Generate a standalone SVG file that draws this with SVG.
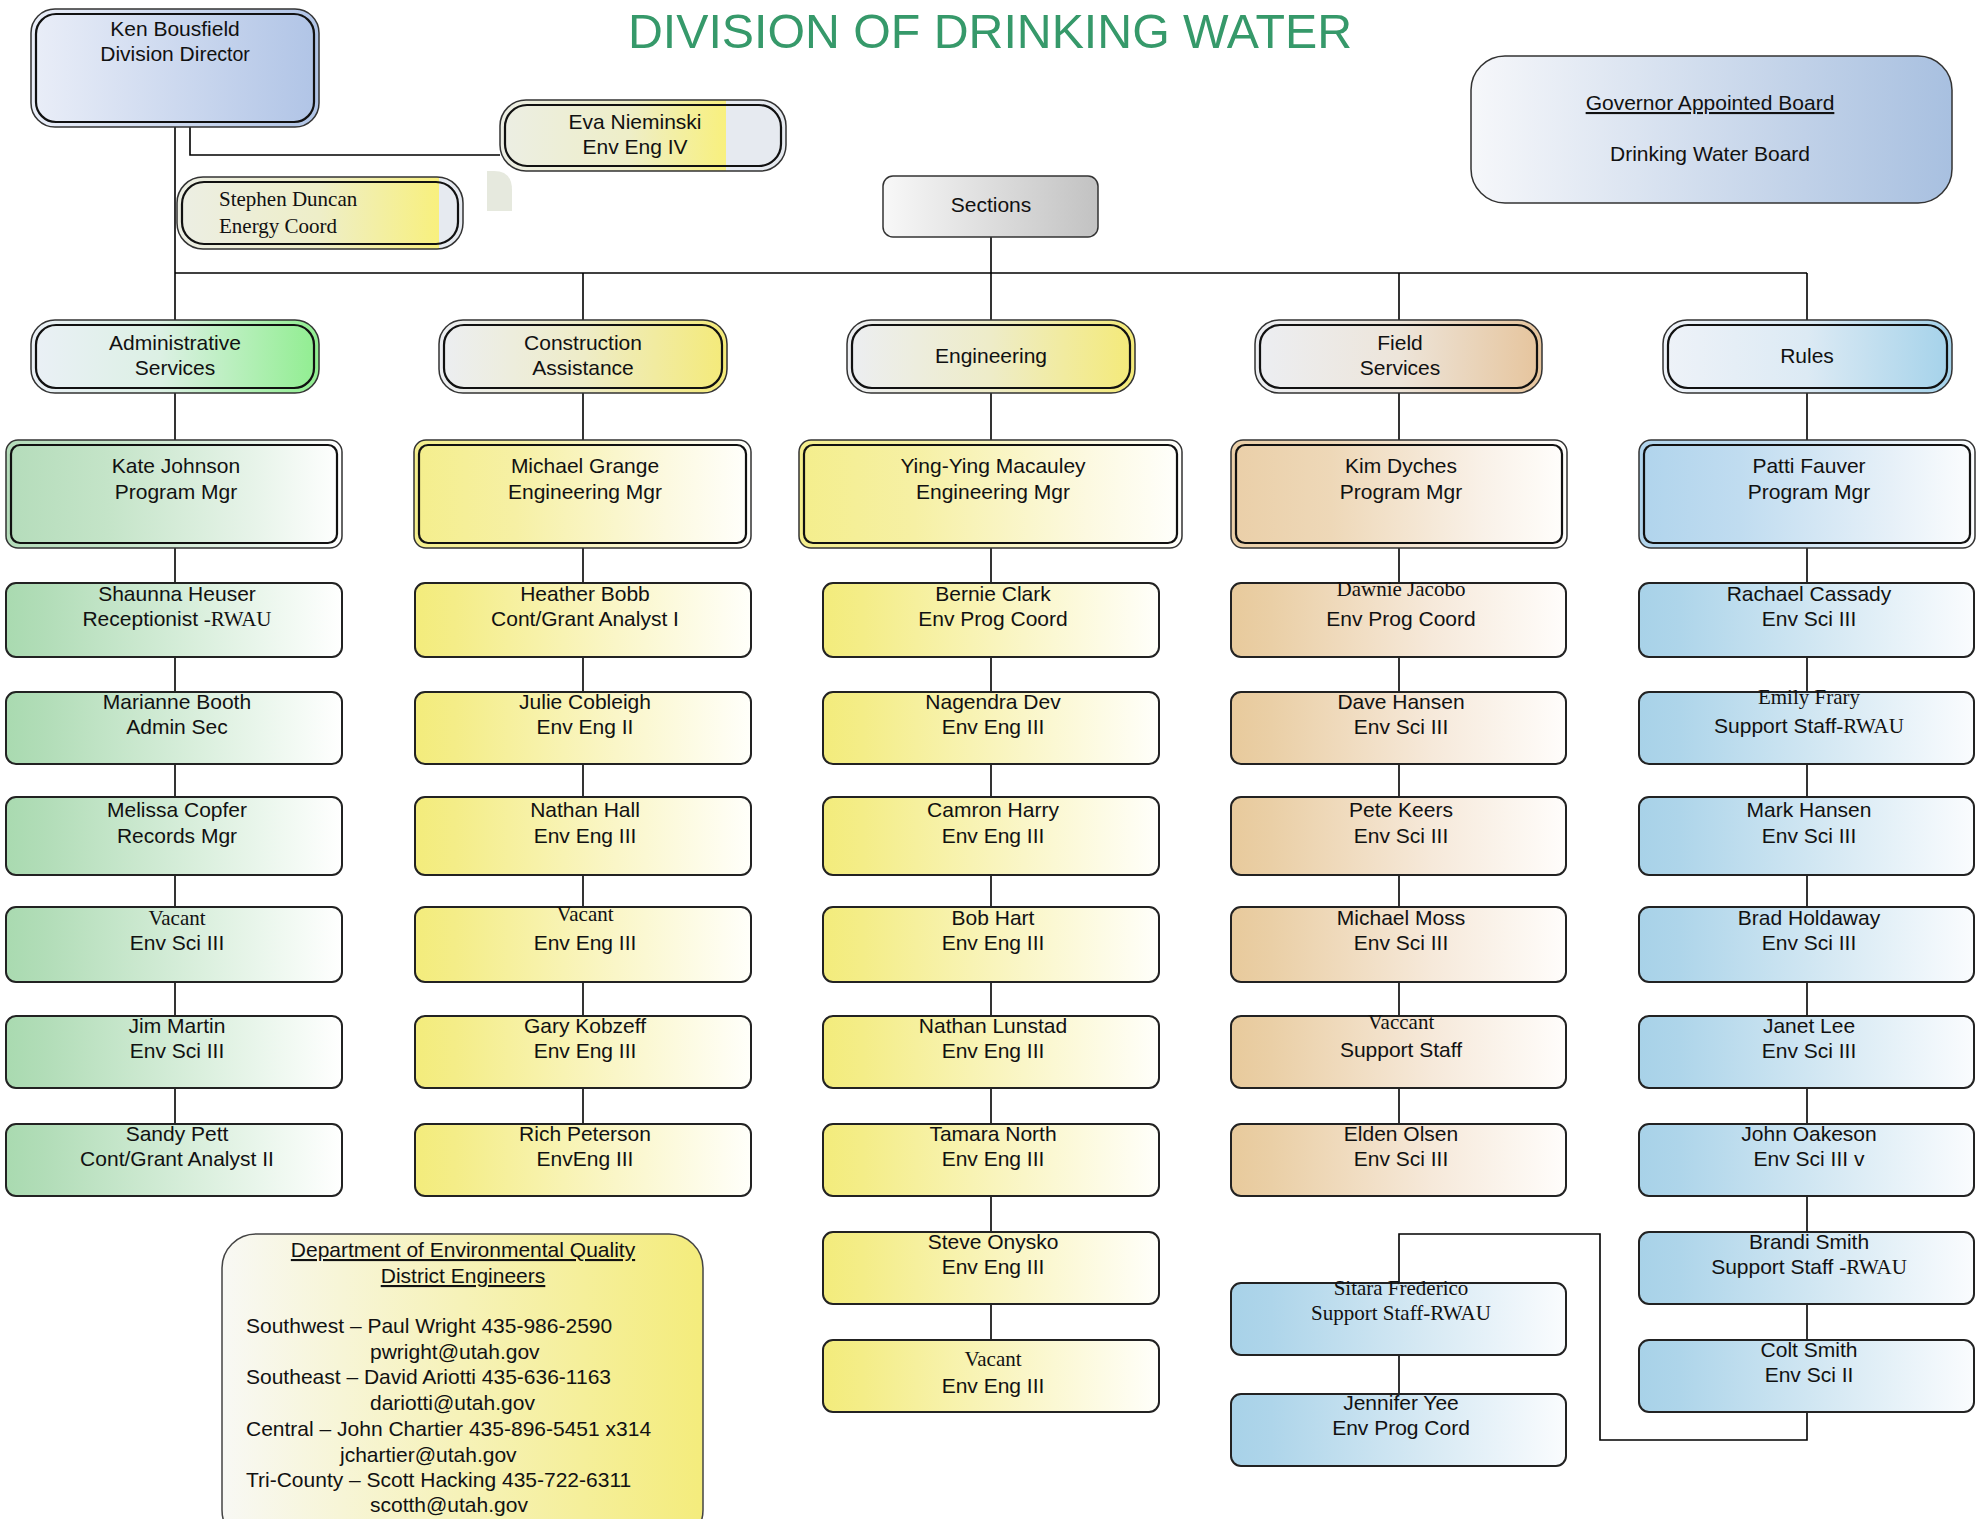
<svg xmlns="http://www.w3.org/2000/svg" width="1984" height="1519" viewBox="0 0 1984 1519">
<style>
.t{font-family:"Liberation Sans",Arial,sans-serif;font-size:21px;fill:#111;text-anchor:middle}
.s{font-family:"Liberation Serif","Times New Roman",serif;font-size:21px}
.ln{stroke:#000;stroke-width:1.6;fill:none}
.box{stroke:#222;stroke-width:2}
.o{stroke:#333;stroke-width:1.5}
.i{fill:none;stroke:#111;stroke-width:2.2}
</style>
<defs>
<linearGradient id="gG"><stop offset="0" stop-color="#a9dab0"/><stop offset="0.12" stop-color="#b2ddb8"/><stop offset="0.6" stop-color="#dcf0df"/><stop offset="1" stop-color="#ffffff"/></linearGradient>
<linearGradient id="gY"><stop offset="0" stop-color="#f3ec7c"/><stop offset="0.12" stop-color="#f4ed88"/><stop offset="0.6" stop-color="#faf6c8"/><stop offset="1" stop-color="#fffffa"/></linearGradient>
<linearGradient id="gT"><stop offset="0" stop-color="#e8ca9c"/><stop offset="0.12" stop-color="#eacfa6"/><stop offset="0.6" stop-color="#f6e9da"/><stop offset="1" stop-color="#fffdfb"/></linearGradient>
<linearGradient id="gB"><stop offset="0" stop-color="#a8d2e8"/><stop offset="0.12" stop-color="#aed5ea"/><stop offset="0.6" stop-color="#d8eaf4"/><stop offset="1" stop-color="#fafcfe"/></linearGradient>
<linearGradient id="mG"><stop offset="0" stop-color="#b4dcba"/><stop offset="0.3" stop-color="#c4e4c8"/><stop offset="0.75" stop-color="#e8f4ea"/><stop offset="1" stop-color="#ffffff"/></linearGradient>
<linearGradient id="mY"><stop offset="0" stop-color="#f4ee8c"/><stop offset="0.3" stop-color="#f6f0a4"/><stop offset="0.75" stop-color="#fcf9e0"/><stop offset="1" stop-color="#fffffc"/></linearGradient>
<linearGradient id="mT"><stop offset="0" stop-color="#eacfa8"/><stop offset="0.3" stop-color="#eed8b8"/><stop offset="0.75" stop-color="#f9f1e8"/><stop offset="1" stop-color="#fffefc"/></linearGradient>
<linearGradient id="mB"><stop offset="0" stop-color="#b0d4ec"/><stop offset="0.3" stop-color="#c0dcf0"/><stop offset="0.75" stop-color="#e6f0f8"/><stop offset="1" stop-color="#fcfdfe"/></linearGradient>
<linearGradient id="hG"><stop offset="0" stop-color="#eaf0f6"/><stop offset="0.45" stop-color="#dcf0e4"/><stop offset="1" stop-color="#90ee90"/></linearGradient>
<linearGradient id="hY"><stop offset="0" stop-color="#eceef2"/><stop offset="0.5" stop-color="#eeecc8"/><stop offset="1" stop-color="#f4ea78"/></linearGradient>
<linearGradient id="hT"><stop offset="0" stop-color="#eceef2"/><stop offset="0.5" stop-color="#ede5da"/><stop offset="1" stop-color="#e6c49c"/></linearGradient>
<linearGradient id="hB"><stop offset="0" stop-color="#eef2f8"/><stop offset="0.5" stop-color="#dceaf4"/><stop offset="1" stop-color="#a4d2ea"/></linearGradient>
<linearGradient id="gKen"><stop offset="0" stop-color="#eaeef8"/><stop offset="1" stop-color="#b0c4e6"/></linearGradient>
<linearGradient id="gGov"><stop offset="0" stop-color="#f6f7fa"/><stop offset="1" stop-color="#a8c0e0"/></linearGradient>
<linearGradient id="gSec"><stop offset="0" stop-color="#f8f8f8"/><stop offset="1" stop-color="#c2c2c2"/></linearGradient>
<linearGradient id="gDeq"><stop offset="0" stop-color="#f8f8f4"/><stop offset="1" stop-color="#f4ec7c"/></linearGradient>
<linearGradient id="gEva"><stop offset="0" stop-color="#eceee4"/><stop offset="0.45" stop-color="#eeeec8"/><stop offset="0.79" stop-color="#f8f07e"/><stop offset="0.79" stop-color="#e6eaf0"/><stop offset="1" stop-color="#e6eaf0"/></linearGradient>
<linearGradient id="gSte"><stop offset="0" stop-color="#eceee4"/><stop offset="0.5" stop-color="#eeeec8"/><stop offset="0.915" stop-color="#f8f07e"/><stop offset="0.915" stop-color="#e6eaf0"/><stop offset="1" stop-color="#e6eaf0"/></linearGradient>
</defs>
<rect width="1984" height="1519" fill="#ffffff"/>

<text x="990" y="48" font-family="Liberation Sans, Arial, sans-serif" font-size="48" fill="#36996a" text-anchor="middle" textLength="724" lengthAdjust="spacingAndGlyphs">DIVISION OF DRINKING WATER</text>

<g id="connectors">
<path class="ln" d="M175,127 V1124"/>
<path class="ln" d="M175,273 H1807" stroke-width="2.5"/>
<path class="ln" d="M991,237 V1340"/>
<path class="ln" d="M583,273 V1124"/>
<path class="ln" d="M1399,273 V1124"/>
<path class="ln" d="M1807,273 V1412"/>
<path class="ln" d="M1807,1412 V1440 H1600 V1234 H1399 V1283" stroke-width="2"/>
<path class="ln" d="M1399,1355 V1394"/>
<path class="ln" d="M190,127 V155 H500" stroke-width="2"/>
<path d="M163,97 H190 V127" fill="none" stroke="#888" stroke-width="1.5" stroke-dasharray="2,1.5"/>
</g>

<path d="M487,171 H494 Q512,171 512,190 V211 H487 Z" fill="#e6e9de"/>

<g id="ken">
<rect class="o" x="31" y="9" width="288" height="118" rx="24" fill="url(#gKen)"/>
<rect class="i" x="36" y="14" width="278" height="108" rx="20"/>
<text class="t" x="175" y="36">Ken Bousfield</text>
<text class="t" x="175" y="61">Division Dir<tspan font-size="19.5">ector</tspan></text>
</g>

<g id="eva">
<rect class="o" x="500" y="100" width="286" height="71" rx="26" fill="url(#gEva)"/>
<rect class="i" x="505" y="105" width="276" height="61" rx="22"/>
<text class="t" x="635" y="129">Eva Nieminski</text>
<text class="t" x="635" y="154">Env Eng IV</text>
</g>

<g id="stephen">
<rect class="o" x="177" y="177" width="286" height="72" rx="26" fill="url(#gSte)"/>
<rect class="i" x="182" y="182" width="276" height="62" rx="22"/>
<text class="s" x="219" y="206" font-size="22.5" fill="#111">Stephen Duncan</text>
<text class="s" x="219" y="233" font-size="22.5" fill="#111">Energy Coord</text>
</g>

<g id="governor">
<rect x="1471" y="56" width="481" height="147" rx="34" fill="url(#gGov)" stroke="#333" stroke-width="1.5"/>
<text class="t" x="1710" y="110" text-decoration="underline">Governor Appointed Board</text>
<text class="t" x="1710" y="161">Drinking Water Board</text>
</g>

<g id="sections">
<rect x="883" y="176" width="215" height="61" rx="10" fill="url(#gSec)" stroke="#333" stroke-width="1.5"/>
<text class="t" x="991" y="212">Sections</text>
</g>

<!-- Section headers -->
<g id="h-admin">
<rect class="o" x="31" y="320" width="288" height="73" rx="24" fill="url(#hG)"/>
<rect class="i" x="36" y="325" width="278" height="63" rx="20"/>
<text class="t" x="175" y="350">Administrative</text>
<text class="t" x="175" y="375">Services</text>
</g>
<g id="h-construction">
<rect class="o" x="439" y="320" width="288" height="73" rx="24" fill="url(#hY)"/>
<rect class="i" x="444" y="325" width="278" height="63" rx="20"/>
<text class="t" x="583" y="350">Construction</text>
<text class="t" x="583" y="375">Assistance</text>
</g>
<g id="h-engineering">
<rect class="o" x="847" y="320" width="288" height="73" rx="24" fill="url(#hY)"/>
<rect class="i" x="852" y="325" width="278" height="63" rx="20"/>
<text class="t" x="991" y="363">Engineering</text>
</g>
<g id="h-field">
<rect class="o" x="1255" y="320" width="287" height="73" rx="24" fill="url(#hT)"/>
<rect class="i" x="1260" y="325" width="277" height="63" rx="20"/>
<text class="t" x="1400" y="350">Field</text>
<text class="t" x="1400" y="375">Services</text>
</g>
<g id="h-rules">
<rect class="o" x="1663" y="320" width="289" height="73" rx="24" fill="url(#hB)"/>
<rect class="i" x="1668" y="325" width="279" height="63" rx="20"/>
<text class="t" x="1807" y="363">Rules</text>
</g>

<!-- Managers -->
<g id="m-kate">
<rect class="o" x="6" y="440" width="336" height="108" rx="12" fill="url(#mG)"/>
<rect class="i" x="11" y="445" width="326" height="98" rx="9"/>
<text class="t" x="176" y="473">Kate Johnson</text>
<text class="t" x="176" y="499">Program Mgr</text>
</g>
<g id="m-michael">
<rect class="o" x="414" y="440" width="337" height="108" rx="12" fill="url(#mY)"/>
<rect class="i" x="419" y="445" width="327" height="98" rx="9"/>
<text class="t" x="585" y="473">Michael Grange</text>
<text class="t" x="585" y="499">Engineering Mgr</text>
</g>
<g id="m-ying">
<rect class="o" x="799" y="440" width="383" height="108" rx="12" fill="url(#mY)"/>
<rect class="i" x="804" y="445" width="373" height="98" rx="9"/>
<text class="t" x="993" y="473">Ying-Ying Macauley</text>
<text class="t" x="993" y="499">Engineering Mgr</text>
</g>
<g id="m-kim">
<rect class="o" x="1231" y="440" width="336" height="108" rx="12" fill="url(#mT)"/>
<rect class="i" x="1236" y="445" width="326" height="98" rx="9"/>
<text class="t" x="1401" y="473">Kim Dyches</text>
<text class="t" x="1401" y="499">Program Mgr</text>
</g>
<g id="m-patti">
<rect class="o" x="1639" y="440" width="336" height="108" rx="12" fill="url(#mB)"/>
<rect class="i" x="1644" y="445" width="326" height="98" rx="9"/>
<text class="t" x="1809" y="473">Patti Fauver</text>
<text class="t" x="1809" y="499">Program Mgr</text>
</g>

<!-- Admin staff -->
<g id="a1"><rect class="box" x="6" y="583" width="336" height="74" rx="10" fill="url(#gG)"/>
<text class="t" x="177" y="601">Shaunna Heuser</text><text class="t" x="177" y="626">Receptionist <tspan class="s">-RWAU</tspan></text></g>
<g id="a2"><rect class="box" x="6" y="692" width="336" height="72" rx="10" fill="url(#gG)"/>
<text class="t" x="177" y="709">Marianne Booth</text><text class="t" x="177" y="734">Admin Sec</text></g>
<g id="a3"><rect class="box" x="6" y="797" width="336" height="78" rx="10" fill="url(#gG)"/>
<text class="t" x="177" y="817">Melissa Copfer</text><text class="t" x="177" y="843">Records Mgr</text></g>
<g id="a4"><rect class="box" x="6" y="907" width="336" height="75" rx="10" fill="url(#gG)"/>
<text class="t s" x="177" y="925">Vacant</text><text class="t" x="177" y="950">Env Sci III</text></g>
<g id="a5"><rect class="box" x="6" y="1016" width="336" height="72" rx="10" fill="url(#gG)"/>
<text class="t" x="177" y="1033">Jim Martin</text><text class="t" x="177" y="1058">Env Sci III</text></g>
<g id="a6"><rect class="box" x="6" y="1124" width="336" height="72" rx="10" fill="url(#gG)"/>
<text class="t" x="177" y="1141">Sandy Pett</text><text class="t" x="177" y="1166">Cont/Grant Analyst II</text></g>

<!-- Construction staff -->
<g id="c1"><rect class="box" x="415" y="583" width="336" height="74" rx="10" fill="url(#gY)"/>
<text class="t" x="585" y="601">Heather Bobb</text><text class="t" x="585" y="626">Cont/Grant Analyst I</text></g>
<g id="c2"><rect class="box" x="415" y="692" width="336" height="72" rx="10" fill="url(#gY)"/>
<text class="t" x="585" y="709">Julie Cobleigh</text><text class="t" x="585" y="734">Env Eng II</text></g>
<g id="c3"><rect class="box" x="415" y="797" width="336" height="78" rx="10" fill="url(#gY)"/>
<text class="t" x="585" y="817">Nathan Hall</text><text class="t" x="585" y="843">Env Eng III</text></g>
<g id="c4"><rect class="box" x="415" y="907" width="336" height="75" rx="10" fill="url(#gY)"/>
<text class="t s" x="585" y="921">Vacant</text><text class="t" x="585" y="950">Env Eng III</text></g>
<g id="c5"><rect class="box" x="415" y="1016" width="336" height="72" rx="10" fill="url(#gY)"/>
<text class="t" x="585" y="1033">Gary Kobzeff</text><text class="t" x="585" y="1058">Env Eng III</text></g>
<g id="c6"><rect class="box" x="415" y="1124" width="336" height="72" rx="10" fill="url(#gY)"/>
<text class="t" x="585" y="1141">Rich Peterson</text><text class="t" x="585" y="1166">EnvEng III</text></g>

<!-- Engineering staff -->
<g id="e1"><rect class="box" x="823" y="583" width="336" height="74" rx="10" fill="url(#gY)"/>
<text class="t" x="993" y="601">Bernie Clark</text><text class="t" x="993" y="626">Env Prog Coord</text></g>
<g id="e2"><rect class="box" x="823" y="692" width="336" height="72" rx="10" fill="url(#gY)"/>
<text class="t" x="993" y="709">Nagendra Dev</text><text class="t" x="993" y="734">Env Eng III</text></g>
<g id="e3"><rect class="box" x="823" y="797" width="336" height="78" rx="10" fill="url(#gY)"/>
<text class="t" x="993" y="817">Camron Harry</text><text class="t" x="993" y="843">Env Eng III</text></g>
<g id="e4"><rect class="box" x="823" y="907" width="336" height="75" rx="10" fill="url(#gY)"/>
<text class="t" x="993" y="925">Bob Hart</text><text class="t" x="993" y="950">Env Eng III</text></g>
<g id="e5"><rect class="box" x="823" y="1016" width="336" height="72" rx="10" fill="url(#gY)"/>
<text class="t" x="993" y="1033">Nathan Lunstad</text><text class="t" x="993" y="1058">Env Eng III</text></g>
<g id="e6"><rect class="box" x="823" y="1124" width="336" height="72" rx="10" fill="url(#gY)"/>
<text class="t" x="993" y="1141">Tamara North</text><text class="t" x="993" y="1166">Env Eng III</text></g>
<g id="e7"><rect class="box" x="823" y="1232" width="336" height="72" rx="10" fill="url(#gY)"/>
<text class="t" x="993" y="1249">Steve Onysko</text><text class="t" x="993" y="1274">Env Eng III</text></g>
<g id="e8"><rect class="box" x="823" y="1340" width="336" height="72" rx="10" fill="url(#gY)"/>
<text class="t s" x="993" y="1366">Vacant</text><text class="t" x="993" y="1393">Env Eng III</text></g>

<!-- Field staff -->
<g id="f1"><rect class="box" x="1231" y="583" width="335" height="74" rx="10" fill="url(#gT)"/>
<text class="t s" x="1401" y="596">Dawnie Jacobo</text><text class="t" x="1401" y="626">Env Prog Coord</text></g>
<g id="f2"><rect class="box" x="1231" y="692" width="335" height="72" rx="10" fill="url(#gT)"/>
<text class="t" x="1401" y="709">Dave Hansen</text><text class="t" x="1401" y="734">Env Sci III</text></g>
<g id="f3"><rect class="box" x="1231" y="797" width="335" height="78" rx="10" fill="url(#gT)"/>
<text class="t" x="1401" y="817">Pete Keers</text><text class="t" x="1401" y="843">Env Sci III</text></g>
<g id="f4"><rect class="box" x="1231" y="907" width="335" height="75" rx="10" fill="url(#gT)"/>
<text class="t" x="1401" y="925">Michael Moss</text><text class="t" x="1401" y="950">Env Sci III</text></g>
<g id="f5"><rect class="box" x="1231" y="1016" width="335" height="72" rx="10" fill="url(#gT)"/>
<text class="t s" x="1401" y="1029">Vaccant</text><text class="t" x="1401" y="1057">Support Staff</text></g>
<g id="f6"><rect class="box" x="1231" y="1124" width="335" height="72" rx="10" fill="url(#gT)"/>
<text class="t" x="1401" y="1141">Elden Olsen</text><text class="t" x="1401" y="1166">Env Sci III</text></g>
<g id="f7"><rect class="box" x="1231" y="1283" width="335" height="72" rx="10" fill="url(#gB)"/>
<text class="t s" x="1401" y="1295">Sitara Frederico</text><text class="t s" x="1401" y="1320">Support Staff-RWAU</text></g>
<g id="f8"><rect class="box" x="1231" y="1394" width="335" height="72" rx="10" fill="url(#gB)"/>
<text class="t" x="1401" y="1410">Jennifer Yee</text><text class="t" x="1401" y="1435">Env Prog Cord</text></g>

<!-- Rules staff -->
<g id="r1"><rect class="box" x="1639" y="583" width="335" height="74" rx="10" fill="url(#gB)"/>
<text class="t" x="1809" y="601">Rachael Cassady</text><text class="t" x="1809" y="626">Env Sci III</text></g>
<g id="r2"><rect class="box" x="1639" y="692" width="335" height="72" rx="10" fill="url(#gB)"/>
<text class="t s" x="1809" y="704">Emily Frary</text><text class="t" x="1809" y="733">Support Staff<tspan class="s">-RWAU</tspan></text></g>
<g id="r3"><rect class="box" x="1639" y="797" width="335" height="78" rx="10" fill="url(#gB)"/>
<text class="t" x="1809" y="817">Mark Hansen</text><text class="t" x="1809" y="843">Env Sci III</text></g>
<g id="r4"><rect class="box" x="1639" y="907" width="335" height="75" rx="10" fill="url(#gB)"/>
<text class="t" x="1809" y="925">Brad Holdaway</text><text class="t" x="1809" y="950">Env Sci III</text></g>
<g id="r5"><rect class="box" x="1639" y="1016" width="335" height="72" rx="10" fill="url(#gB)"/>
<text class="t" x="1809" y="1033">Janet Lee</text><text class="t" x="1809" y="1058">Env Sci III</text></g>
<g id="r6"><rect class="box" x="1639" y="1124" width="335" height="72" rx="10" fill="url(#gB)"/>
<text class="t" x="1809" y="1141">John Oakeson</text><text class="t" x="1809" y="1166">Env Sci III v</text></g>
<g id="r7"><rect class="box" x="1639" y="1232" width="335" height="72" rx="10" fill="url(#gB)"/>
<text class="t" x="1809" y="1249">Brandi Smith</text><text class="t" x="1809" y="1274">Support Staff <tspan class="s">-RWAU</tspan></text></g>
<g id="r8"><rect class="box" x="1639" y="1340" width="335" height="72" rx="10" fill="url(#gB)"/>
<text class="t" x="1809" y="1357">Colt Smith</text><text class="t" x="1809" y="1382">Env Sci II</text></g>

<!-- DEQ note -->
<g id="deq">
<rect x="222" y="1234" width="481" height="310" rx="34" fill="url(#gDeq)" stroke="#444" stroke-width="1.5"/>
<text class="t" x="463" y="1257" text-decoration="underline">Department of Environmental Quality</text>
<text class="t" x="463" y="1283" text-decoration="underline">District Engineers</text>
<g class="t" style="text-anchor:start">
<text x="246" y="1333">Southwest – Paul Wright 435-986-2590</text>
<text x="370" y="1359">pwright@utah.gov</text>
<text x="246" y="1384">Southeast – David Ariotti 435-636-1163</text>
<text x="370" y="1410">dariotti@utah.gov</text>
<text x="246" y="1436">Central – John Chartier 435-896-5451 x314</text>
<text x="340" y="1462">jchartier@utah.gov</text>
<text x="246" y="1487">Tri-County – Scott Hacking 435-722-6311</text>
<text x="370" y="1512">scotth@utah.gov</text>
</g>
</g>
</svg>
